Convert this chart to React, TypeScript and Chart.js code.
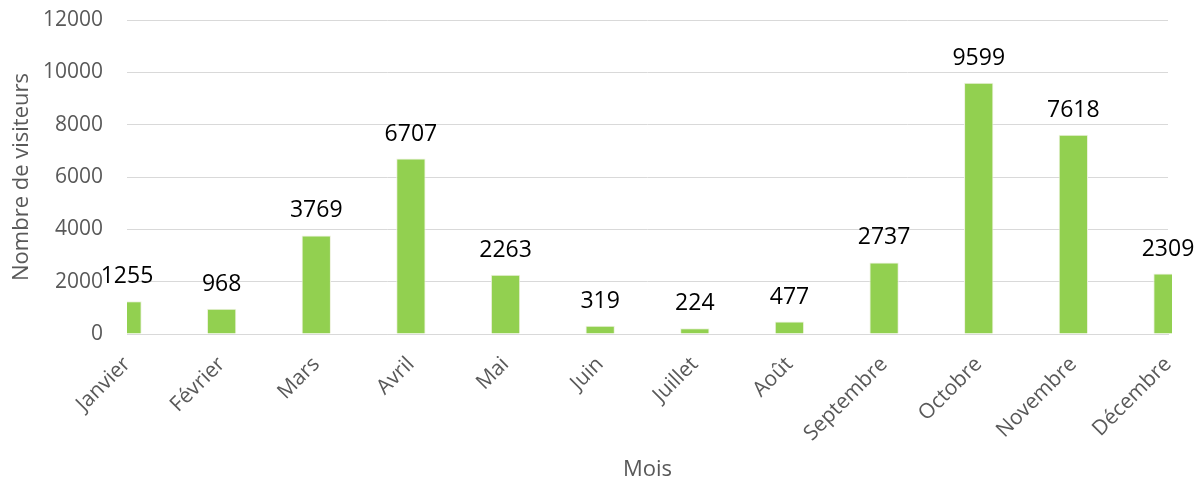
import React, { useEffect, useRef } from "react";
import { Chart, registerables } from "chart.js";

Chart.register(...registerables);

const months = [
  "Janvier", "Février", "Mars", "Avril", "Mai", "Juin",
  "Juillet", "Août", "Septembre", "Octobre", "Novembre", "Décembre",
];
const visitors = [1255, 968, 3769, 6707, 2263, 319, 224, 477, 2737, 9599, 7618, 2309];
const yMin = 0;
const yMax = 12000;
const yStep = 2000;
const yTitle = "Nombre de visiteurs";
const xTitle = "Mois";

const FONT = '"Open Sans", "Noto Sans", sans-serif';

const valueLabels = {
  id: "valueLabels",
  afterDatasetsDraw(chart: any) {
    const ctx = chart.ctx;
    const meta = chart.getDatasetMeta(0);
    ctx.save();
    ctx.font = `23px ${FONT}`;
    ctx.fillStyle = "#000000";
    ctx.textAlign = "center";
    ctx.textBaseline = "alphabetic";
    meta.data.forEach((bar: any, i: number) => {
      ctx.fillText(String(visitors[i]), bar.x, bar.y - 18);
    });
    ctx.restore();
  },
};

export default function App() {
  const ref = useRef<HTMLCanvasElement>(null);
  useEffect(() => {
    document.body.style.margin = "0";
    const chart = new Chart(ref.current!, {
      type: "bar",
      data: {
        labels: months,
        datasets: [
          {
            data: visitors,
            backgroundColor: "#92D050",
            borderColor: "#eef2df",
            borderWidth: 1,
            barPercentage: 0.31,
            categoryPercentage: 1,
            clip: { left: 0, right: 4, top: false, bottom: 0 } as any,
          },
        ],
      },
      options: {
        responsive: false,
        animation: false,
        layout: { padding: { top: 20, right: 36, left: 0, bottom: 0 } },
        plugins: {
          legend: { display: false },
          tooltip: { enabled: false },
        },
        scales: {
          x: {
            offset: false,
            grid: { display: false, drawTicks: false },
            border: { display: true, color: "#d9d9d9", width: 1 },
            ticks: {
              color: "#595959",
              font: { family: FONT, size: 21 },
              maxRotation: 45,
              minRotation: 45,
              padding: 18,
              autoSkip: false,
            },
            title: {
              display: true,
              text: xTitle,
              color: "#595959",
              font: { family: FONT, size: 22 },
              padding: { top: 0, bottom: 2 },
            },
            afterFit: (s: any) => {
              s.height = 151;
            },
          },
          y: {
            min: yMin,
            max: yMax,
            grid: {
              color: "#d9d9d9",
              lineWidth: 1,
              drawTicks: true,
              tickLength: 24,
              tickColor: "rgba(0,0,0,0)",
            },
            border: { display: false },
            ticks: {
              stepSize: yStep,
              color: "#595959",
              font: { family: FONT, size: 21 },
              padding: 0,
              callback: (v: any) => String(v),
            },
            title: {
              display: true,
              text: yTitle,
              color: "#595959",
              font: { family: FONT, size: 22 },
              padding: { top: 9, bottom: 0 },
            },
            afterFit: (s: any) => {
              s.width = 127;
            },
          },
        },
      },
      plugins: [valueLabels],
    });
    return () => chart.destroy();
  }, []);
  return <canvas ref={ref} width={1204} height={485} />;
}
